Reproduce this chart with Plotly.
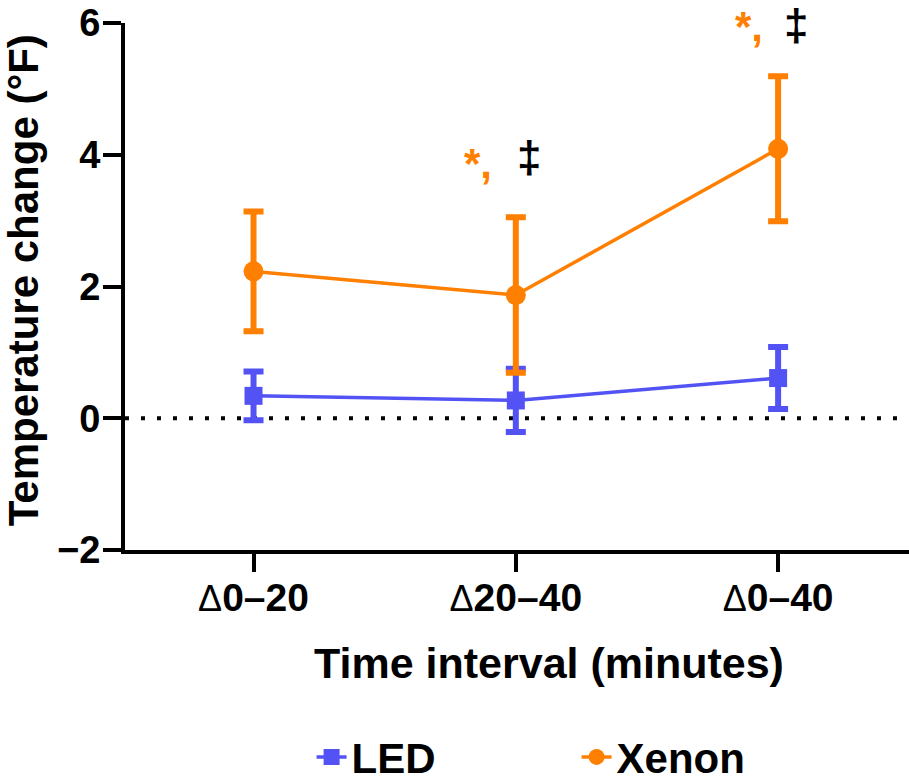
import plotly.graph_objects as go

categories = ["Δ0–20", "Δ20–40", "Δ0–40"]
led_mean = [0.34, 0.27, 0.61]
led_err = [0.37, 0.48, 0.47]
xenon_mean = [2.23, 1.87, 4.09]
xenon_err = [0.91, 1.18, 1.10]
y_ticks = [-2, 0, 2, 4, 6]
y_ticklabels = ["−2", "0", "2", "4", "6"]
y_range = [-2, 6]

BLUE = "#5353F5"
ORANGE = "#FF7F00"
FONT = "Liberation Sans"

xs = list(range(len(categories)))
ticktext = ["<span style='font-size:36px;font-weight:normal'>" + c[0] + "</span>" + c[1:] for c in categories]


def ypaper(v):
    return (v - y_range[0]) / (y_range[1] - y_range[0])


fig = go.Figure()
fig.add_trace(go.Scatter(
    x=xs, y=led_mean, name="LED", mode="lines+markers",
    line=dict(color=BLUE, width=3.5),
    marker=dict(symbol="square", size=18, color=BLUE),
    error_y=dict(type="data", array=led_err, color=BLUE, thickness=6, width=10),
    cliponaxis=False,
))
fig.add_trace(go.Scatter(
    x=xs, y=xenon_mean, name="Xenon", mode="lines+markers",
    line=dict(color=ORANGE, width=3.5),
    marker=dict(symbol="circle", size=20, color=ORANGE),
    error_y=dict(type="data", array=xenon_err, color=ORANGE, thickness=6, width=10),
    cliponaxis=False,
))

fig.add_shape(type="line", xref="paper", yref="y", x0=0, x1=1, y0=0, y1=0,
              line=dict(color="black", width=4, dash="4px,12px"), layer="below")

# significance marks (category index, y of "*,", y of "‡", x offsets)
marks = [(1, 3.87, 3.98, -0.145, 0.05), (2, 5.95, 5.97, -0.11, 0.07)]
for xi, ys, yd, o1, o2 in marks:
    fig.add_annotation(x=xi + o1, y=ypaper(ys), xref="x", yref="paper", text="*,", showarrow=False,
                       xanchor="center", yanchor="middle",
                       font=dict(family=FONT, size=42, color=ORANGE, weight="bold"))
    fig.add_annotation(x=xi + o2, y=ypaper(yd), xref="x", yref="paper", text="‡", showarrow=False,
                       xanchor="center", yanchor="middle",
                       font=dict(family=FONT, size=44, color="black", weight="bold"))

fig.add_annotation(x=0.541, y=-0.2144, xref="paper", yref="paper", text="Time interval (minutes)",
                   showarrow=False, font=dict(family=FONT, size=43, color="black", weight="bold"),
                   xanchor="center", yanchor="middle")
fig.add_annotation(x=-0.130, y=0.512, xref="paper", yref="paper", text="Temperature change (°F)",
                   showarrow=False, textangle=-90,
                   font=dict(family=FONT, size=42, color="black", weight="bold"),
                   xanchor="center", yanchor="middle")

fig.update_layout(
    width=909, height=781,
    margin=dict(l=125, r=0, t=23, b=231, autoexpand=False),
    paper_bgcolor="white", plot_bgcolor="white",
    font=dict(family=FONT, color="black"),
    showlegend=True,
    legend=dict(orientation="h", x=0.238, y=-0.393, xanchor="left", yanchor="middle",
                font=dict(family=FONT, size=42, color="black", weight="bold"),
                entrywidth=220, entrywidthmode="pixels"),
    xaxis=dict(range=[-0.49, 2.499], tickmode="array", tickvals=xs, ticktext=ticktext,
               showline=True, linecolor="black", linewidth=4, ticks="outside",
               ticklen=18, tickwidth=4, tickcolor="black", showgrid=False, zeroline=False,
               ticklabelstandoff=-8,
               tickfont=dict(family=FONT, size=39, color="black", weight="bold")),
    yaxis=dict(range=y_range, tickmode="array", tickvals=y_ticks, ticktext=y_ticklabels,
               showline=True, linecolor="black", linewidth=4, ticks="outside",
               ticklen=18, tickwidth=4, tickcolor="black", showgrid=False, zeroline=False,
               ticklabelstandoff=-5,
               tickfont=dict(family=FONT, size=38, color="black", weight="bold")),
)

fig.write_html("out.html", config={"displayModeBar": False})

with open("out.html", "r", encoding="utf-8") as f:
    html = f.read()
html = html.replace("<body>", "<body style=\"margin:0;overflow:hidden\">", 1)
with open("out.html", "w", encoding="utf-8") as f:
    f.write(html)
